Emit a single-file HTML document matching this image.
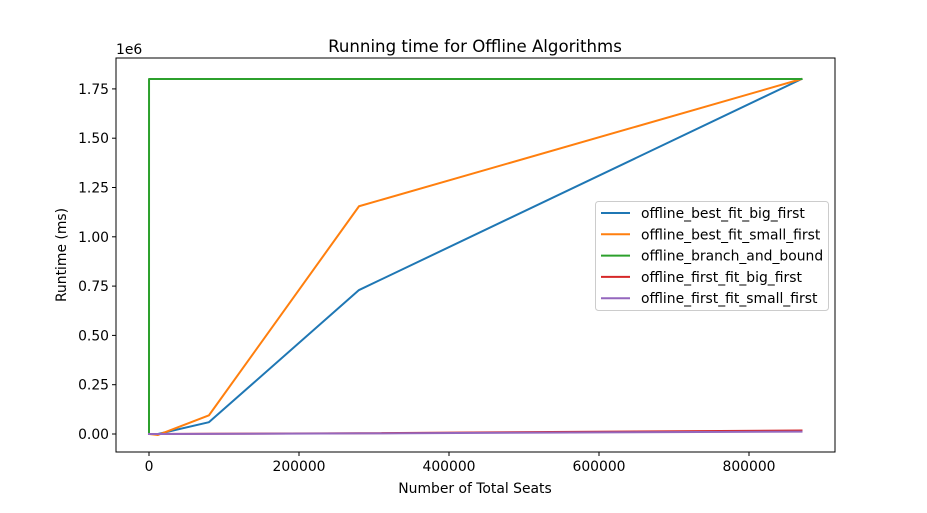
<!DOCTYPE html>
<html><head><meta charset="utf-8"><style>
body{margin:0;background:#fff;}
svg text{font-family:"DejaVu Sans","Liberation Sans",sans-serif;fill:#000;}
</style></head><body>
<svg id="chart" width="927" height="508"></svg>
<script>
const seriesNames=["offline_best_fit_big_first","offline_best_fit_small_first","offline_branch_and_bound","offline_first_fit_big_first","offline_first_fit_small_first"];
const colors=["#1f77b4","#ff7f0e","#2ca02c","#d62728","#9467bd"];
const xBest=[0,12000,80000,280000,870000];
const yBestBig=[0,0,60000,730000,1800000];
const yBestSmall=[0,-5000,95000,1155000,1800000];
const xBnb=[0,10,20,50,100,870000];
const yBnb=[0,70000,650000,1800000,1800000,1800000];
const xFirst=[0,12000,80000,280000,870000];
const yFirstBig=[0,0,1000,4000,18000];
const yFirstSmall=[0,0,800,3000,12000];
const xTicks=[0,200000,400000,600000,800000];
const yTicks=[0,250000,500000,750000,1000000,1250000,1500000,1750000];
const yTickLabels=["0.00","0.25","0.50","0.75","1.00","1.25","1.50","1.75"];

const svg=document.getElementById('chart');
const NS="http://www.w3.org/2000/svg";
const L=116,R=835,T=58,B=452;
const FS=13.9;
const sx=v=>149+v*150/200000;
const sy=v=>434-v*197.2/1000000;
function mk(tag,attrs,parent){const e=document.createElementNS(NS,tag);for(const k in attrs)e.setAttribute(k,attrs[k]);(parent||svg).appendChild(e);return e;}

const title=mk('text',{x:475,y:52,'text-anchor':'middle','font-size':16.6});
title.textContent="Running time for Offline Algorithms";



const data=[[xBest,yBestBig],[xBest,yBestSmall],[xBnb,yBnb],[xFirst,yFirstBig],[xFirst,yFirstSmall]];
const plot=mk('g',{});


data.forEach((d,i)=>{
  const pts=d[0].map((x,j)=>sx(x)+","+sy(d[1][j])).join(" ");
  const pl=mk('polyline',{points:pts,fill:'none',stroke:colors[i],'stroke-width':2,'stroke-linejoin':'round','stroke-linecap':'square'},plot);
  
  
});

const frame=mk('rect',{x:L,y:T,width:R-L,height:B-T,fill:'none',stroke:'#000','stroke-width':1});



xTicks.forEach(v=>{
  const x=sx(v);
  mk('line',{x1:x,x2:x,y1:B,y2:B+4,stroke:'#000'});
  const t=mk('text',{x:x,y:B+19,'text-anchor':'middle','font-size':FS});
  t.textContent=String(v);
  
  
});
yTicks.forEach((v,i)=>{
  const y=sy(v);
  mk('line',{x1:L-4,x2:L,y1:y,y2:y,stroke:'#000'});
  const t=mk('text',{x:L-7,y:y+5,'text-anchor':'end','font-size':FS});
  t.textContent=yTickLabels[i];
  
  
});
const off=mk('text',{x:116,y:54,'font-size':FS});
off.textContent="1e6";


const xt=mk('text',{x:475,y:493,'text-anchor':'middle','font-size':FS});
xt.textContent="Number of Total Seats";


const yt=mk('text',{x:66,y:255,'text-anchor':'middle','font-size':FS,transform:'rotate(-90 66 255)'});
yt.textContent="Runtime (ms)";



const lg=mk('g',{});


mk('rect',{x:595.5,y:201.5,width:233,height:109,rx:3,fill:'#fff','fill-opacity':0.8,stroke:'#ccc'},lg);
seriesNames.forEach((n,i)=>{
  const y=213+i*21.3;
  mk('line',{x1:601,x2:630,y1:y,y2:y,stroke:colors[i],'stroke-width':2},lg);
  const t=mk('text',{x:641,y:y+5,'font-size':FS},lg);
  t.textContent=n;
  
  
});
</script>
</body></html>
